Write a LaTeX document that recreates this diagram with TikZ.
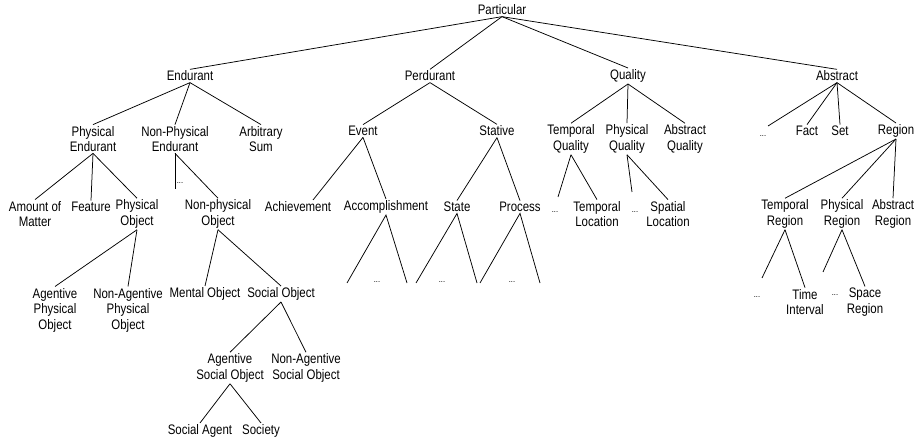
\documentclass[tikz,border=0pt]{standalone}
\usepackage{fontspec}
\setmainfont{Liberation Sans}[FakeStretch=0.83]
\usetikzlibrary{positioning}

\begin{document}
\begin{tikzpicture}[x=1pt, y=-1pt, line width=0.75pt,
    every node/.style={font=\fontsize{13.8}{15.5}\selectfont, align=center, inner sep=1.2pt},
    dots/.style={font=\fontsize{9}{9}\selectfont, inner sep=0.5pt}]
			\useasboundingbox (0,0) rectangle (915,443);

			% Top of the tree
			\node (particular) at (502,10) {Particular};

			\node (endurant) at (190,76) {Endurant};
			\node (perdurant) at (430,76) {Perdurant};
			\node (quality) at (628,76) {Quality};
			\node (abstract) at (837,76) {Abstract};

			% Second level
			\node (physend) at (93,139) {Physical\\Endurant};
			\node (nonphysend) at (175,139) {Non-Physical\\Endurant};
			\node (arbsum) at (261,139) {Arbitrary\\Sum};
			\node (event) at (363,131) {Event};
			\node (stative) at (497,131) {Stative};
			\node (tempqual) at (571,139) {Temporal\\Quality};
			\node (physqual) at (627,139) {Physical\\Quality};
			\node (absqual) at (685,139) {Abstract\\Quality};
			\coordinate (absdots-end) at (768,126);
			\node[dots] (absdots) at (763,136) {...};
			\node (fact) at (807,131) {Fact};
			\node (set) at (840,131) {Set};
			\node (region) at (896,131) {Region};

			% Third level
			\node (matter) at (35,214) {Amount of\\Matter};
			\node (feature) at (91,207) {Feature};
			\node (physobj) at (137,214) {Physical\\Object};
			\coordinate (npedots-end) at (175,189);
			\node[dots, anchor=west] (npedots) at (176,183) {...};
			\node (nonphysobj) at (218,214) {Non-physical\\Object};
			\node (achievement) at (298,207) {Achievement};
			\coordinate (achv-end) at (313,200);
			\node (accomplishment) at (386,207) {Accomplishment};
			\node (state) at (457,207) {State};
			\node (process) at (520,207) {Process};
			\coordinate (tqdots-end) at (558,197);
			\node[dots] (tqdots) at (555,212) {...};
			\node (temploc) at (597,214) {Temporal\\Location};
			\coordinate (pqdots-end) at (632,192);
			\node[dots] (pqdots) at (635,212) {...};
			\node (spatloc) at (668,214) {Spatial\\Location};
			\node (tempreg) at (785,214) {Temporal\\Region};
			\node (physreg) at (842,214) {Physical\\Region};
			\node (absreg) at (893,214) {Abstract\\Region};

			% Open ends below the perdurants
			\coordinate (acc-l) at (347,283);
			\coordinate (acc-r) at (407,283);
			\node[dots] (accdots) at (377,282) {...};
			\coordinate (state-l) at (416,283);
			\coordinate (state-r) at (477,283);
			\node[dots] (statedots) at (442,282) {...};
			\coordinate (proc-l) at (480,283);
			\coordinate (proc-r) at (540,283);
			\node[dots] (procdots) at (512,282) {...};

			% Fourth level
			\node (agphysobj) at (55,310) {Agentive\\Physical\\Object};
			\node (nagphysobj) at (128,310) {Non-Agentive\\Physical\\Object};
			\node (mentalobj) at (205,294) {Mental Object};
			\node (socialobj) at (281,294) {Social Object};
			\coordinate (trdots-end) at (762,278);
			\node[dots] (trdots) at (757,297) {...};
			\node (timeint) at (805,302) {Time\\Interval};
			\coordinate (prdots-end) at (823,272);
			\node[dots] (prdots) at (835,295) {...};
			\node (spacereg) at (865,302) {Space\\Region};

			% Social objects
			\node (agsocobj) at (230,368) {Agentive\\Social Object};
			\node (nagsocobj) at (306,368) {Non-Agentive\\Social Object};
			\node (socagent) at (200,431) {Social Agent};
			\node (society) at (261,431) {Society};

			% Draw the branches from the top
			\draw (particular.south) -- (endurant.north);
			\draw (particular.south) -- (perdurant.north);
			\draw (particular.south) -- (quality.north);
			\draw (particular.south) -- (abstract.north);

			\draw (endurant.south) -- (physend.north);
			\draw (endurant.south) -- (nonphysend.north);
			\draw (endurant.south) -- (arbsum.north);
			\draw (perdurant.south) -- (event.north);
			\draw (perdurant.south) -- (stative.north);
			\draw (quality.south) -- (tempqual.north);
			\draw (quality.south) -- (physqual.north);
			\draw (quality.south) -- (absqual.north);
			\draw (abstract.south) -- (absdots-end);
			\draw (abstract.south) -- (fact.north);
			\draw (abstract.south) -- (set.north);
			\draw (abstract.south) -- (region.north);

			% Draw the branches of the second level
			\draw (physend.south) -- (matter.north);
			\draw (physend.south) -- (feature.north);
			\draw (physend.south) -- (physobj.north);
			\draw (nonphysend.south) -- (npedots-end);
			\draw (nonphysend.south) -- (nonphysobj.north);
			\draw (event.south) -- (achv-end);
			\draw (event.south) -- (accomplishment.north);
			\draw (stative.south) -- (state.north);
			\draw (stative.south) -- (process.north);
			\draw (tempqual.south) -- (tqdots-end);
			\draw (tempqual.south) -- (temploc.north);
			\draw (physqual.south) -- (pqdots-end);
			\draw (physqual.south) -- (spatloc.north);
			\draw (region.south) -- (tempreg.north);
			\draw (region.south) -- (physreg.north);
			\draw (region.south) -- (absreg.north);

			% Draw the open triangles
			\draw (acc-l) -- (accomplishment.south) -- (acc-r);
			\draw (state-l) -- (state.south) -- (state-r);
			\draw (proc-l) -- (process.south) -- (proc-r);

			% Draw the branches of the third level
			\draw (physobj.south) -- (agphysobj.north);
			\draw (physobj.south) -- (nagphysobj.north);
			\draw (nonphysobj.south) -- (mentalobj.north);
			\draw (nonphysobj.south) -- (socialobj.north);
			\draw (tempreg.south) -- (trdots-end);
			\draw (tempreg.south) -- (timeint.north);
			\draw (physreg.south) -- (prdots-end);
			\draw (physreg.south) -- (spacereg.north);

			% Draw the branches below the social object
			\draw (socialobj.south) -- (agsocobj.north);
			\draw (socialobj.south) -- (nagsocobj.north);
			\draw (agsocobj.south) -- (socagent.north);
			\draw (agsocobj.south) -- (society.north);

		\end{tikzpicture}
\end{document}
